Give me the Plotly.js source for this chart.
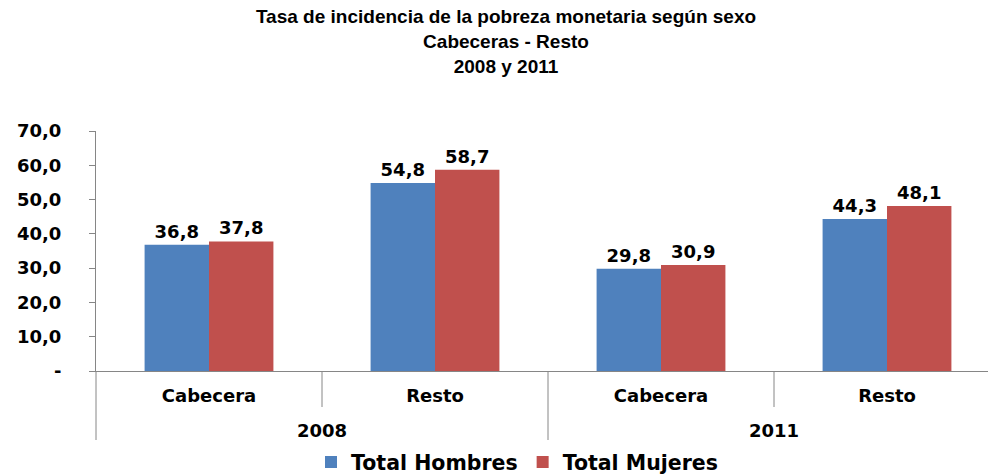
<!DOCTYPE html>
<html>
<head>
<meta charset="utf-8">
<script src="https://cdn.plot.ly/plotly-3.0.1.min.js"></script>
<style>
html,body{margin:0;padding:0;overflow:hidden;background:#fff;}
#chart{width:1000px;height:474px;}
</style>
</head>
<body>
<div id="chart"></div>
<script>
var years = ["2008", "2008", "2011", "2011"];
var zones = ["Cabecera", "Resto", "Cabecera", "Resto"];
var hombres = [36.8, 54.8, 29.8, 44.3];
var mujeres = [37.8, 58.7, 30.9, 48.1];
var seriesNames = ["Total Hombres", "Total Mujeres"];
var yTickVals = [0, 10, 20, 30, 40, 50, 60, 70];
var yTickText = ["-", "10,0", "20,0", "30,0", "40,0", "50,0", "60,0", "70,0"];

function fmt(v){ return v.toFixed(1).replace('.', ','); }

var ids = zones.map(function(z, i){ return years[i] + " " + z; });
var n = ids.length;
var labelFont = {family: "DejaVu Sans", size: 18, color: "#000", weight: "bold"};
var gray = "#868686";

var traces = [
  {type: "bar", name: seriesNames[0], x: ids, y: hombres,
   marker: {color: "#4F81BD"}, text: hombres.map(fmt), textposition: "outside",
   textfont: labelFont, cliponaxis: false, hoverinfo: "none"},
  {type: "bar", name: seriesNames[1], x: ids, y: mujeres,
   marker: {color: "#C0504D"}, text: mujeres.map(fmt), textposition: "outside",
   textfont: labelFont, cliponaxis: false, hoverinfo: "none"}
];

// inner ticks between categories, long dividers between year groups
var shapes = [];
for (var i = 1; i < n; i++) {
  if (years[i] === years[i - 1]) {
    shapes.push({type: "line", xref: "paper", yref: "paper", x0: i / n, x1: i / n,
      ysizemode: "pixel", yanchor: 0, y0: 0, y1: -36, line: {color: gray, width: 1}});
  }
}
var groupStart = 0;
var annotations = [];
for (var i = 0; i <= n; i++) {
  if (i === n || years[i] !== years[groupStart]) {
    shapes.push({type: "line", xref: "paper", yref: "paper", x0: groupStart / n, x1: groupStart / n,
      ysizemode: "pixel", yanchor: 0, y0: 0, y1: -69, line: {color: gray, width: 1}});
    annotations.push({xref: "paper", yref: "paper", x: (groupStart + i) / 2 / n, y: 0,
      yshift: -59, text: years[groupStart], showarrow: false, font: labelFont,
      xanchor: "center", yanchor: "middle"});
    if (i === n) {
      shapes.push({type: "line", xref: "paper", yref: "paper", x0: 1, x1: 1,
        ysizemode: "pixel", yanchor: 0, y0: 0, y1: -69, line: {color: gray, width: 1}});
    }
    groupStart = i;
  }
}

var layout = {
  width: 1000, height: 474,
  margin: {l: 96, r: 0, t: 131, b: 103},
  paper_bgcolor: "#fff", plot_bgcolor: "#fff",
  barmode: "group", bargap: 0.43, bargroupgap: 0,
  title: {
    text: "Tasa de incidencia de la pobreza monetaria según sexo<br>Cabeceras - Resto<br>2008 y 2011",
    font: {family: "Liberation Sans, Arial", size: 19, color: "#000", weight: "bold"},
    x: 0.506, xref: "container", xanchor: "center",
    y: 0.951, yref: "container", yanchor: "middle"
  },
  xaxis: {
    type: "category", tickvals: ids, ticktext: zones,
    showline: true, linecolor: gray, linewidth: 1,
    ticks: "", ticklabelstandoff: 8,
    tickfont: labelFont, showgrid: false, zeroline: false, fixedrange: true
  },
  yaxis: {
    range: [0, 70], tickvals: yTickVals, ticktext: yTickText,
    showline: true, linecolor: gray, linewidth: 1,
    ticks: "outside", ticklen: 6, tickcolor: gray,
    ticklabelstandoff: 24,
    tickfont: labelFont, showgrid: false, zeroline: false, fixedrange: true
  },
  shapes: shapes,
  annotations: annotations,
  showlegend: true,
  legend: {
    orientation: "h", x: 0.517, xanchor: "center", xref: "container",
    y: 0.025, yref: "container", yanchor: "middle",
    font: {family: "DejaVu Sans", size: 20.5, color: "#000", weight: "bold"},
    traceorder: "normal", itemwidth: 30
  }
};

Plotly.newPlot("chart", traces, layout, {displayModeBar: false, staticPlot: true});
</script>
</body>
</html>
